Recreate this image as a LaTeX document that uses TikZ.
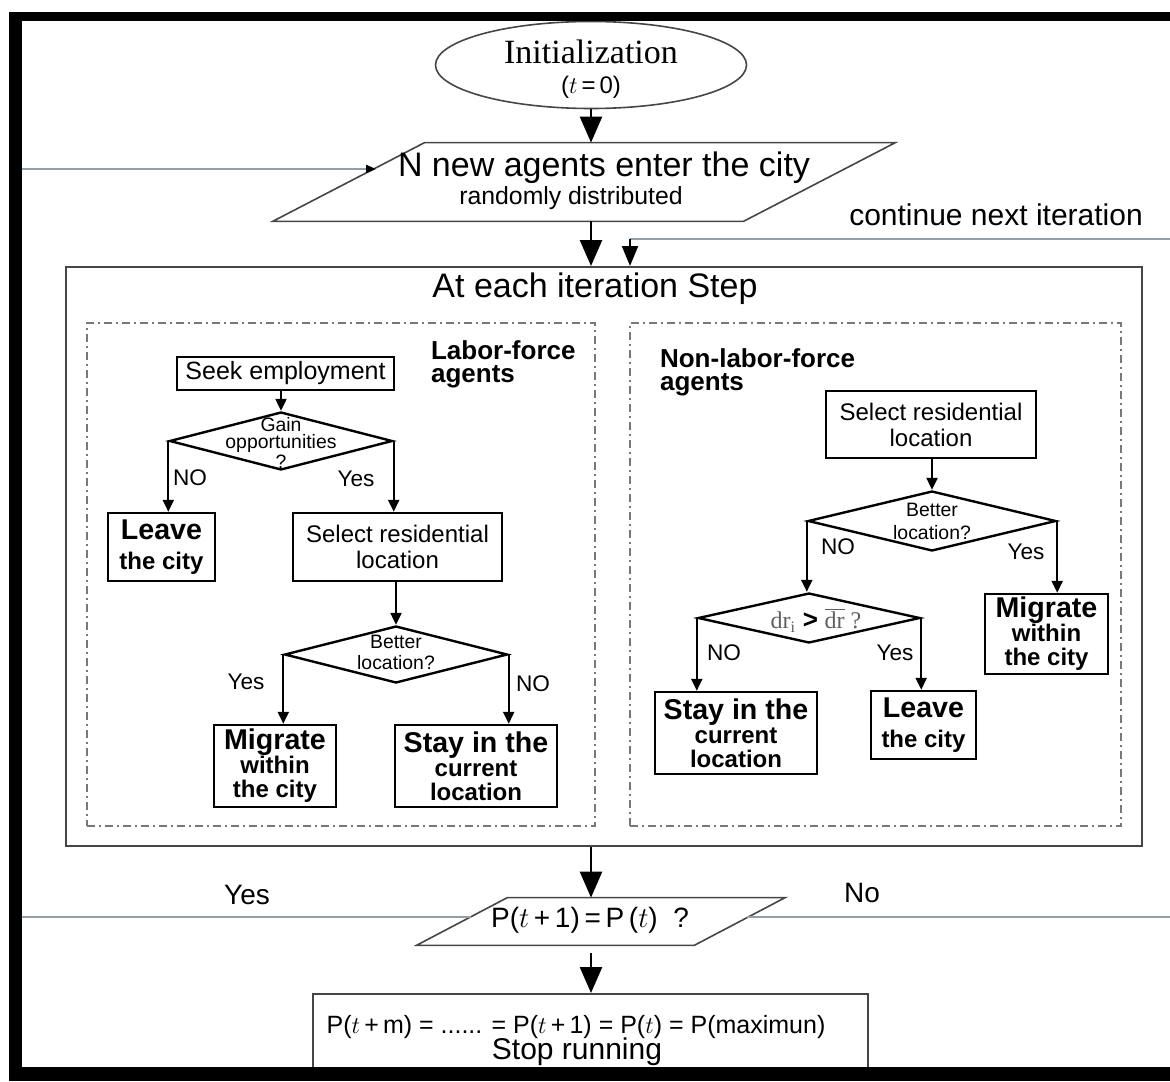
\documentclass[tikz,border=0pt]{standalone}
\usepackage{fontspec}
\setmainfont{Liberation Sans}
\newfontfamily\timesfont{Liberation Serif}
\usepackage{tikz}
\usetikzlibrary{shapes.geometric,arrows.meta,calc}
\tikzset {>=Stealth}
\definecolor{linegray}{RGB}{145,160,170}
\definecolor{framegray}{RGB}{70,70,70}
\definecolor{dashgray}{RGB}{120,120,120}
\definecolor{drgray}{RGB}{95,95,95}

\begin{document}
\begin{tikzpicture}[x=0.5pt,y=-0.5pt,
  box/.style={draw,line width=1.2pt,inner sep=0pt,align=center,font=\fontsize{12}{13}\selectfont},
  endbox/.style={box,font=\bfseries\fontsize{12}{12}\selectfont},
  decision/.style={diamond,draw,line width=1.2pt,inner sep=0pt},
  dtext/.style={align=center,font=\fontsize{9.7}{8.5}\selectfont},
  panel/.style={draw=dashgray,line width=0.7pt,dash pattern=on 4pt off 2pt on 1pt off 2pt},
  yesno/.style={font=\fontsize{11.3}{13}\selectfont},
  flow/.style={->,line width=1.1pt,>={Stealth[length=6pt,width=5.5pt,inset=0pt]}},
  bigflow/.style={->,line width=1.3pt,>={Stealth[length=13pt,width=11pt,inset=0pt]}},
  paraline/.style={draw=framegray,line width=0.8pt}]
\useasboundingbox (0,0) rectangle (1170,1081);

\node[ellipse,draw=framegray,line width=0.8pt,inner sep=0pt,minimum width=155.5pt,minimum height=43.5pt] (init) at (591,65) {};
\node[font=\timesfont\fontsize{17}{17}\selectfont] (initt) at (591,52) {Initialization};
\node[font=\fontsize{12}{12}\selectfont] (initz) at (591,87) {($t$\,=\,0)};

\node[minimum width=235pt,minimum height=39pt,inner sep=0pt] (enter) at (584,182) {};
\draw[paraline] ($(enter.south west)+(-76,0)$) -- ($(enter.south east)+(-76,0)$) -- ($(enter.north east)+(76,0)$) -- ($(enter.north west)+(76,0)$) -- cycle;
\node[font=\fontsize{17}{17}\selectfont] (entert) at (604,168) {N new agents enter the city};
\node[font=\fontsize{12.4}{13}\selectfont] (enters) at (571,198) {randomly distributed};
\node[font=\fontsize{15}{15}\selectfont] (contt) at (996,215) {continue next iteration};

\node[draw=framegray,line width=1pt,minimum width=538pt,minimum height=289.5pt] (iter) at (604,556.5) {};
\node[font=\fontsize{17}{17}\selectfont] (stept) at (595,289) {At each iteration Step};

\node[panel,minimum width=254pt,minimum height=251.5pt] (labpanel) at (341,574.5) {};
\node[panel,minimum width=245.5pt,minimum height=251.5pt] (nonpanel) at (875.5,574.5) {};
\node[anchor=west,align=left,font=\bfseries\fontsize{13}{11.5}\selectfont] (labt) at (424,364.5) {Labor-force\\agents};
\node[anchor=west,align=left,font=\bfseries\fontsize{13}{11.5}\selectfont] (nont) at (653,372) {Non-labor-force\\agents};

\node[box,minimum width=108.5pt,minimum height=16.5pt,font=\fontsize{12.5}{13}\selectfont] (seek) at (285.5,373.5) {Seek employment};
\node[decision,minimum width=111.5pt,minimum height=29pt] (gain) at (281,441) {};
\node[dtext] (gaint) at (281,443) {Gain\\opportunities\\?};
\node[endbox,minimum width=53.5pt,minimum height=34pt] (leave1) at (161.5,547) {{\fontsize{14.3}{12}\selectfont Leave}\\[3pt]the city};
\node[box,minimum width=104.5pt,minimum height=34pt] (sel1) at (397.5,547) {Select residential\\location};
\node[decision,minimum width=111.5pt,minimum height=28.5pt] (better1) at (396,654.5) {};
\node[dtext,font=\fontsize{9.7}{10.5}\selectfont] (better1t) at (396,652) {Better\\location?};
\node[endbox,minimum width=61pt,minimum height=41pt] (mig1) at (275,766) {{\fontsize{14.3}{12}\selectfont Migrate}\\within\\the city};
\node[endbox,minimum width=81pt,minimum height=41pt] (stay1) at (476,766) {{\fontsize{14.3}{12}\selectfont Stay in the}\\current\\location};
\node[yesno] (no1) at (190,478) {NO};
\node[yesno] (yes1) at (356,479) {Yes};
\node[yesno] (yes2) at (246,682) {Yes};
\node[yesno] (no2) at (533,684) {NO};

\draw[flow] (seek.south -| gain.north) -- (gain.north);
\draw[flow] (gain.west) -- (gain.west |- leave1.north);
\draw[flow] (gain.east) -- (gain.east |- sel1.north);
\draw[flow] (sel1.south -| better1.north) -- (better1.north);
\draw[flow] (better1.west) -- (better1.west |- mig1.north);
\draw[flow] (better1.east) -- (better1.east |- stay1.north);

\node[box,minimum width=105pt,minimum height=33.5pt] (sel2) at (931,424.5) {Select residential\\location};
\node[decision,minimum width=124pt,minimum height=30pt] (better2) at (932,521) {};
\node[dtext,font=\fontsize{9.7}{11.5}\selectfont] (better2t) at (932,521.5) {Better\\location?};
\node[decision,minimum width=111pt,minimum height=25pt] (dr) at (809,618) {};
\node[font=\fontsize{12}{12}\selectfont] (drt) at (816,620) {{\color{drgray}\timesfont dr\textsubscript{i}} \textbf{\fontsize{13}{13}\selectfont>} {\color{drgray}\timesfont$\overline{\mbox{dr}}$ ?}};
\node[endbox,minimum width=81pt,minimum height=41pt] (stay2) at (736,733) {{\fontsize{14.3}{12}\selectfont Stay in the}\\current\\location};
\node[endbox,minimum width=52.5pt,minimum height=34pt] (leave2) at (923.5,725) {{\fontsize{14.3}{12}\selectfont Leave}\\[3pt]the city};
\node[endbox,minimum width=61.5pt,minimum height=40pt] (mig2) at (1046.5,634) {{\fontsize{14.3}{12}\selectfont Migrate}\\within\\the city};
\node[yesno] (no3) at (838,547) {NO};
\node[yesno] (yes3) at (1026,552) {Yes};
\node[yesno] (no4) at (724,653) {NO};
\node[yesno] (yes4) at (895,653) {Yes};

\draw[flow] (sel2.south -| better2.north) -- (better2.north);
\draw[flow] (better2.west) -- (better2.west |- dr.north);
\draw[flow] (better2.east) -- (better2.east |- mig2.north);
\draw[flow] (dr.west) -- (dr.west |- stay2.north);
\draw[flow] (dr.east) -- (dr.east |- leave2.north);

\node[minimum width=138.5pt,minimum height=23.5pt,inner sep=0pt] (check) at (600.75,921.5) {};
\draw[paraline] ($(check.south west)+(-45.5,0)$) -- ($(check.south east)+(-45.5,0)$) -- ($(check.north east)+(45.5,0)$) -- ($(check.north west)+(45.5,0)$) -- cycle;
\node[font=\fontsize{14}{14}\selectfont] (checkt) at (590,920) {P($t$\,+\,1)\,=\,P\,($t$)\ \ ?};
\node[draw=framegray,line width=1pt,minimum width=277.5pt,minimum height=41pt,anchor=north] (stop) at (590.5,993) {};
\node[font=\fontsize{12.5}{13}\selectfont] (stopt1) at (576,1027) {P($t$\,+\,m) = ...... = P($t$\,+\,1) = P($t$) = P(maximun)};
\node[font=\fontsize{15}{15}\selectfont] (stopt2) at (577,1052) {Stop running};
\node[font=\fontsize{14}{14}\selectfont] (yesb) at (247,895) {Yes};
\node[font=\fontsize{14}{14}\selectfont] (nob) at (862,893) {No};

\draw[bigflow] (init.south) -- (init.south |- enter.north);
\draw[bigflow] (enter.south -| init.south) -- (init.south |- iter.north);
\draw[bigflow] (init.south |- iter.south) -- (init.south |- check.north);
\draw[bigflow,shorten <=4pt] (init.south |- check.south) -- (init.south |- stop.north);

\coordinate (lin) at (22,169);
\coordinate (entin) at (376,169);
\draw[linegray,line width=1pt,-{Stealth[length=5pt,width=4pt,inset=0pt,color=black]}] (lin) -- (entin);
\coordinate (rin) at (1170,239);
\coordinate (contin) at (630,239);
\draw[linegray,line width=1pt] (rin) -- (contin);
\draw[->,line width=1pt,>={Stealth[length=10pt,width=8pt,inset=0pt]}] (contin) -- (contin |- iter.north);
\coordinate (lyes) at (22,917);
\coordinate (chkl) at (471,917);
\coordinate (chkr) at (747,917);
\coordinate (rno) at (1170,917);
\draw[linegray,line width=1pt] (lyes) -- (chkl);
\draw[linegray,line width=1pt] (chkr) -- (rno);

\fill (9,12) rectangle (1170,21);
\fill (9,12) rectangle (22,1081);
\fill (9,1067) rectangle (1170,1081);
\end{tikzpicture}
\end{document}
